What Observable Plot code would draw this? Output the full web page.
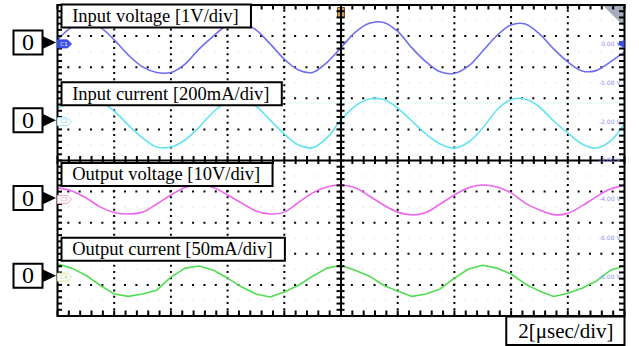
<!DOCTYPE html>
<html>
<head>
<meta charset="utf-8">
<script src="https://cdn.jsdelivr.net/npm/d3@7"></script>
<script src="https://cdn.jsdelivr.net/npm/@observablehq/plot@0.6"></script>
<style>
  html, body { margin: 0; padding: 0; background: #fff; }
  #chart { width: 639px; height: 346px; }
</style>
</head>
<body>
<div id="chart"></div>
<script>
// ---- captured samples (time in µs, 0.5 µs apart) ----
const timeUs = [0, 0.5, 1, 1.5, 2, 2.5, 3, 3.5, 4, 4.5, 5, 5.5, 6, 6.5, 7, 7.5, 8, 8.5, 9, 9.5,
  10, 10.5, 11, 11.5, 12, 12.5, 13, 13.5, 14, 14.5, 15, 15.5, 16, 16.5, 17, 17.5, 18, 18.5, 19, 19.5, 20];

// input voltage [V]
const inputVoltage = [0.13, 0.54, 0.70, 0.54, 0.13, -0.36, -0.74, -0.92, -0.92, -0.65, -0.16, 0.25, 0.61, 0.69,
  0.45, 0.00, -0.49, -0.84, -0.92, -0.60, -0.12, 0.37, 0.66, 0.69, 0.40, -0.13, -0.58, -0.90, -0.95, -0.71,
  -0.23, 0.27, 0.61, 0.64, 0.32, -0.16, -0.58, -0.87, -0.86, -0.58, -0.26];

// input current [mA]
const inputCurrent = [87, 132, 152, 132, 68, -22, -105, -163, -163, -118, -35, 62, 132, 149, 100, 10, -80,
  -150, -167, -105, 10, 100, 145, 142, 87, 4, -80, -144, -170, -131, -41, 75, 142, 145, 94, 4, -73, -144,
  -170, -125, -15];

// output voltage [V]
const outputVoltage = [3.7, 2.7, 0.5, -2.4, -4.2, -4.7, -4.1, -1.5, 1.4, 3.8, 4.6, 3.8, 1.4, -1.2, -3.7, -4.7,
  -4.1, -1.0, 2.1, 4.0, 4.6, 3.7, 1.1, -1.8, -4.1, -5.0, -4.2, -1.5, 1.4, 3.7, 4.6, 4.0, 2.1, -1.2, -3.4,
  -4.9, -4.5, -2.1, 0.8, 3.3, 4.5];

// output current [mA]
const outputCurrent = [21, 14.5, 3, -13, -27, -31, -27, -21, 0, 14.5, 18, 11, -1.5, -16, -27, -32, -24, -13,
  1.5, 14.5, 19, 11, 1.5, -13, -22.5, -31, -27, -19, -1.5, 13, 19, 14.5, 5, -11, -22.5, -31, -26, -18,
  -6.5, 11, 18];

// channel names and sensitivities
const channelLabels = ["Input voltage [1V/div]", "Input current [200mA/div]",
  "Output voltage [10V/div]", "Output current [50mA/div]"];
const unitsPerDiv = [1, 200, 10, 50];
const channelTags = ["C1", "C2", "C3", "C4"];
const zeroLabel = "0";
const timeBaseLabel = "2[μsec/div]";

// offset readout on the right edge
const offsetReadouts = ["0.00 V", "-1.00 V", "-2.00 V", "-3.00 V", "-4.00 V", "-5.00 V", "-6.00 V"];
const offsetReadoutDivs = [3.75, 2.5, 1.25, 0, -1.25, -2.5, -3.75];

// ---- screen layout ----
const W = 639, H = 346;
const M = {left: 57, right: 15, top: 4.5, bottom: 30.5};
const pxX = 20 / (W - M.left - M.right);    // µs per pixel
const pxY = 10 / (H - M.top - M.bottom);    // div per pixel
const zeroDiv = [3.75, 1.25, -1.25, -3.75];   // channel ground positions
const labelLift = [0.9, 0.9, 0.8, 0.9];       // caption above ground, in div
const traceColors = ["#6d6ef0", "#62e4f0", "#ef66ee", "#52dc52"];
const tagStroke = ["#3c4ee6", "#98e8f3", "#f3a4c4", "#cde6a0"];
const tagFill = ["#3c4ee6", "#ffffff", "#ffffff", "#ffffff"];
const tagText = ["#ffffff", "#7fdbe8", "#ec8fb6", "#b8d98a"];
const serif = "'Liberation Serif', 'Times New Roman', serif";
const sans = "'DejaVu Sans', Arial, sans-serif";

const measure = document.createElement("canvas").getContext("2d");
function textWidth(s, size) { measure.font = `${size}px ${serif}`; return measure.measureText(s).width; }
function polygon(points) {
  return {draw(c) { c.moveTo(points[0][0], points[0][1]); for (const p of points.slice(1)) c.lineTo(p[0], p[1]); c.closePath(); }};
}
function box(x0, y0, w, h) { return {draw(c) { c.rect(x0, y0, w, h); }}; }

const series = [inputVoltage, inputCurrent, outputVoltage, outputCurrent];
const rows = series.map((vals, ch) => timeUs.map((t, i) => ({t, v: vals[i], ch})));

const minorX = d3.range(0, 20.0001, 0.4);
const minorY = d3.range(-5, 5.0001, 0.2);
const majorX = [2, 4, 6, 8, 12, 14, 16, 18];
const majorY = [-4, -3, -2, -1, 1, 2, 3, 4];
const halfY = [-4.5, -3.5, -2.5, -1.5, -0.5, 0.5, 1.5, 2.5, 3.5, 4.5];

const chIdx = [0, 1, 2, 3];
const marks = [
  // faint half-division rows and trigger level
  Plot.ruleY(halfY, {stroke: "#e6e6e6", strokeWidth: 1.5, strokeDasharray: "1.5,9.84", strokeDashoffset: 0.75}),
  Plot.ruleY([1.85], {stroke: "#c4f1f6", strokeWidth: 1, strokeDasharray: "1,1"}),
  // dotted graticule
  Plot.ruleX(majorX, {stroke: "black", strokeWidth: 2, strokeDasharray: "2,4.22", strokeDashoffset: 1}),
  Plot.ruleY(majorY, {stroke: "black", strokeWidth: 2, strokeDasharray: "2,9.34", strokeDashoffset: 1}),
  // corner tab and trigger position marker
  Plot.dot([0], {x: () => 20, y: () => 5, symbol: polygon([[-22, 0], [0, 0], [0, 22]]), fill: "#a4acbb", stroke: "none"}),
  Plot.dot([0], {x: () => 10, y: () => 5, symbol: box(-3.5, 2.5, 7, 10), fill: "#d99a5e", stroke: "#7a4a20", strokeWidth: 1}),
];

// traces
rows.forEach((r, ch) => {
  marks.push(Plot.line(r, {
    x: "t",
    y: d => zeroDiv[ch] + d.v / unitsPerDiv[ch],
    stroke: traceColors[ch],
    strokeWidth: 1.6,
    curve: ch === 3 ? "linear" : "catmull-rom"
  }));
});

marks.push(
  // centre axes with minor ticks
  Plot.ruleX([10], {stroke: "black", strokeWidth: 2}),
  Plot.ruleY([0], {stroke: "black", strokeWidth: 2}),
  Plot.ruleY(minorY, {x1: () => 10 - 4 * pxX, x2: () => 10 + 4 * pxX, stroke: "black", strokeWidth: 2}),
  Plot.ruleX(minorX, {y1: () => -4 * pxY, y2: () => 4 * pxY, stroke: "black", strokeWidth: 2}),
  // border ticks
  Plot.ruleY(minorY, {x1: () => 0, x2: () => 5 * pxX, stroke: "black", strokeWidth: 2}),
  Plot.ruleY(minorY, {x1: () => 20 - 5 * pxX, x2: () => 20, stroke: "black", strokeWidth: 2}),
  Plot.ruleX(minorX, {y1: () => 5 - 5 * pxY, y2: () => 5, stroke: "black", strokeWidth: 2}),
  Plot.ruleX(minorX, {y1: () => -5, y2: () => -5 + 5 * pxY, stroke: "black", strokeWidth: 2}),
  Plot.frame({stroke: "black", strokeWidth: 2}),
  // offset readout
  Plot.text(offsetReadouts, {x: () => 20, y: (d, i) => offsetReadoutDivs[i], text: d => d, textAnchor: "end",
    dx: -4, fontSize: 6, fontFamily: sans, fill: "#8a8fef"}),
  Plot.dot([0], {x: () => 20, y: () => zeroDiv[0], symbol: polygon([[0, -4.5], [-7, 0], [0, 4.5]]), fill: "#3c4ee6", stroke: "none"})
);

// channel ground tags
chIdx.forEach(ch => {
  marks.push(
    Plot.dot([ch], {x: () => 0, y: () => zeroDiv[ch], symbol: polygon([[0, -4], [10, -4], [14, 0], [10, 4], [0, 4]]),
      fill: tagFill[ch], stroke: tagStroke[ch], strokeWidth: 1}),
    Plot.text([channelTags[ch]], {x: () => 0, y: () => zeroDiv[ch], text: d => d, dx: 6.5, fontSize: 5.5,
      fontFamily: sans, fill: tagText[ch]})
  );
});

// captions in boxes
chIdx.forEach(ch => {
  const tw = textWidth(channelLabels[ch], 18.5);
  marks.push(
    Plot.dot([ch], {x: () => 0, y: () => zeroDiv[ch] + labelLift[ch], symbol: box(4, -11.5, tw + 23, 23),
      fill: "white", stroke: "black", strokeWidth: 2}),
    Plot.text([channelLabels[ch]], {x: () => 0, y: () => zeroDiv[ch] + labelLift[ch], text: d => d,
      textAnchor: "start", dx: 14.7, fontSize: 18.5, fontFamily: serif, fill: "black"})
  );
});

// ground markers outside the screen
chIdx.forEach(ch => {
  marks.push(
    Plot.dot([ch], {x: () => 0, y: () => zeroDiv[ch], symbol: box(-44, -13.5, 29, 24), fill: "white", stroke: "black", strokeWidth: 2}),
    Plot.dot([ch], {x: () => 0, y: () => zeroDiv[ch], symbol: polygon([[-15, -8], [-1.5, -1.5], [-15, 5]]), fill: "black", stroke: "none"}),
    Plot.text([zeroLabel], {x: () => 0, y: () => zeroDiv[ch], text: d => d, dx: -29.5, dy: -1.5, fontSize: 24,
      fontFamily: serif, fill: "black"})
  );
});

// time base
const tbw = textWidth(timeBaseLabel, 21);
marks.push(
  Plot.dot([0], {x: () => 20, y: () => -5, symbol: box(-(tbw + 23), 0.5, tbw + 23, 28.5), fill: "white", stroke: "black", strokeWidth: 2}),
  Plot.text([timeBaseLabel], {x: () => 20, y: () => -5, text: d => d, textAnchor: "end", dx: -11, dy: 15.5,
    fontSize: 21, fontFamily: serif, fill: "black"})
);

const chart = Plot.plot({
  width: W, height: H,
  marginLeft: M.left, marginRight: M.right, marginTop: M.top, marginBottom: M.bottom,
  x: {domain: [0, 20], axis: null},
  y: {domain: [-5, 5], axis: null},
  style: {background: "white", overflow: "visible"},
  marks
});
document.getElementById("chart").appendChild(chart);
</script>
</body>
</html>
